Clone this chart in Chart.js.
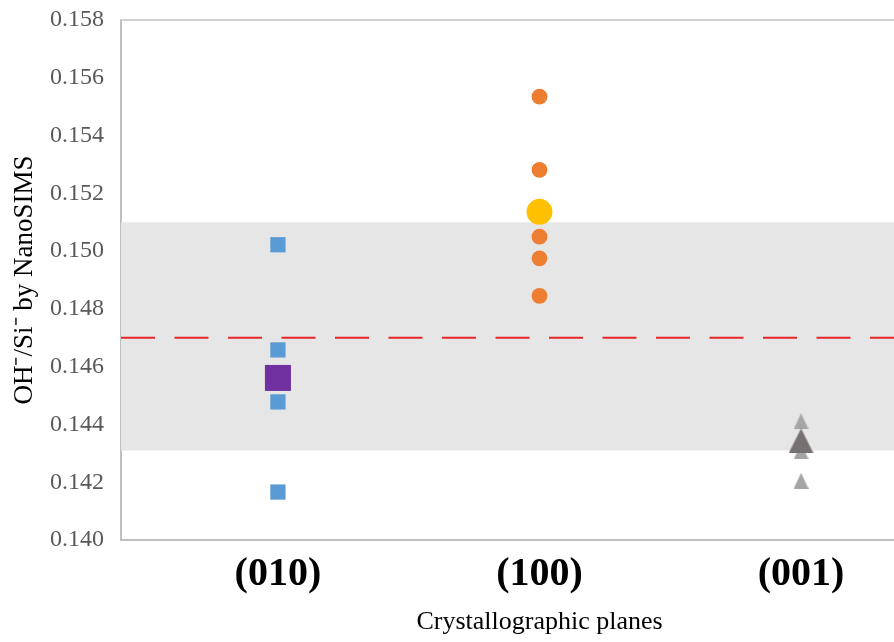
<!DOCTYPE html>
<html>
<head>
<meta charset="utf-8">
<title>OH-/Si- by NanoSIMS</title>
<script src="https://cdn.jsdelivr.net/npm/chart.js@4.4.1/dist/chart.umd.min.js"></script>
<style>
  html, body { margin: 0; padding: 0; background: #fff; overflow: hidden; }
  #wrap { width: 894px; height: 642px; overflow: hidden; }
</style>
</head>
<body>
<div id="wrap"><canvas id="chart" width="958" height="642"></canvas></div>
<script>
// Crystallographic planes shown on the x axis (positions 1, 2, 3)
const categories = ['(010)', '(100)', '(001)'];

// Individual OH-/Si- measurements per plane
const plane010 = [0.15022, 0.14658, 0.14478, 0.14166];
const plane100 = [0.15535, 0.15281, 0.15050, 0.14975, 0.14845];
const plane001 = [0.14411, 0.14307, 0.14205];

// Mean value per plane (large markers)
const planeMeans = [0.14561, 0.15136, 0.14343];

// Reference value (dashed line) and its uncertainty range (grey band)
const referenceValue = 0.147;
const rangeLow = 0.1431;
const rangeHigh = 0.1510;

// Axis ranges
const xMin = 0.4, xMax = 3.6;
const yMin = 0.140, yMax = 0.158, yStep = 0.002;

const SERIF = "'Liberation Serif', 'Times New Roman', serif";

// Triangle marker centred on its bounding box
function triangleMarker(w, h, color) {
  const c = document.createElement('canvas');
  c.width = w; c.height = h;
  const g = c.getContext('2d');
  g.fillStyle = color;
  g.beginPath();
  g.moveTo(w / 2, 0);
  g.lineTo(w, h);
  g.lineTo(0, h);
  g.closePath();
  g.fill();
  return c;
}

const at = (pos, values) => values.map(v => ({ x: pos, y: v }));

// Thin frame line along the top of the plot area
const topFrame = {
  id: 'topFrame',
  afterDraw(chart) {
    const { ctx, chartArea: a } = chart;
    ctx.save();
    ctx.strokeStyle = '#d0d0d0';
    ctx.lineWidth = 2;
    ctx.beginPath();
    ctx.moveTo(a.left, a.top);
    ctx.lineTo(a.right, a.top);
    ctx.stroke();
    ctx.restore();
  }
};

new Chart(document.getElementById('chart'), {
  type: 'scatter',
  data: {
    datasets: [
      {
        type: 'line', label: 'range high',
        data: [{ x: xMin, y: rangeHigh }, { x: xMax, y: rangeHigh }],
        fill: '+1', backgroundColor: '#e6e6e6',
        borderWidth: 0, pointRadius: 0, order: 10
      },
      {
        type: 'line', label: 'range low',
        data: [{ x: xMin, y: rangeLow }, { x: xMax, y: rangeLow }],
        fill: false, borderWidth: 0, pointRadius: 0, order: 11
      },
      {
        type: 'line', label: 'reference',
        data: [{ x: xMin, y: referenceValue }, { x: xMax, y: referenceValue }],
        fill: false, borderColor: '#e8262a', borderWidth: 2,
        borderDash: [34, 19.5], pointRadius: 0, order: 9
      },
      {
        label: categories[0], data: at(1, plane010),
        pointStyle: 'rect', pointRadius: 10.8, borderWidth: 0,
        backgroundColor: '#5b9bd5', order: 5
      },
      {
        label: categories[1], data: at(2, plane100),
        pointStyle: 'circle', pointRadius: 7.9, borderWidth: 0,
        backgroundColor: '#ed7d31', order: 5
      },
      {
        label: categories[2], data: at(3, plane001),
        pointStyle: triangleMarker(15, 16, '#a5a5a5'), borderWidth: 0,
        backgroundColor: '#a5a5a5', order: 5
      },
      {
        label: categories[0] + ' mean', data: at(1, [planeMeans[0]]),
        pointStyle: 'rect', pointRadius: 18.4, borderWidth: 0,
        backgroundColor: '#7030a0', order: 1
      },
      {
        label: categories[1] + ' mean', data: at(2, [planeMeans[1]]),
        pointStyle: 'circle', pointRadius: 13, borderWidth: 0,
        backgroundColor: '#ffc000', order: 1
      },
      {
        label: categories[2] + ' mean', data: at(3, [planeMeans[2]]),
        pointStyle: triangleMarker(25, 25, '#767171'), borderWidth: 0,
        backgroundColor: '#767171', order: 1
      }
    ]
  },
  options: {
    responsive: false,
    animation: false,
    events: [],
    layout: { autoPadding: false, padding: { top: 20, left: 0, right: 0, bottom: 0 } },
    plugins: { legend: { display: false }, tooltip: { enabled: false } },
    scales: {
      x: {
        type: 'linear', min: xMin, max: xMax,
        grid: { display: false, drawTicks: false },
        border: { display: true, color: '#bfbfbf', width: 2 },
        afterBuildTicks: s => { s.ticks = categories.map((c, i) => ({ value: i + 1 })); },
        afterFit: s => { s.height = 102; s.paddingLeft = 0; s.paddingRight = 0; },
        ticks: {
          autoSkip: false, maxRotation: 0, padding: 11, color: '#000',
          font: { family: SERIF, size: 40, weight: 'bold' },
          callback: v => categories[Math.round(v) - 1]
        },
        title: {
          display: true, text: 'Crystallographic planes', color: '#000',
          font: { family: SERIF, size: 26 }, padding: { top: 0, bottom: 4 }
        }
      },
      y: {
        min: yMin, max: yMax,
        grid: { display: false, drawTicks: false },
        border: { display: true, color: '#bfbfbf', width: 2 },
        afterFit: s => { s.width = 121; s.paddingTop = 0; s.paddingBottom = 0; },
        ticks: {
          stepSize: yStep, padding: 17, color: '#595959',
          font: { family: SERIF, size: 24 },
          callback: v => v.toFixed(3)
        },
        title: {
          display: true, text: 'OH\u207B/Si\u207B by NanoSIMS', color: '#000',
          font: { family: SERIF, size: 27 }, padding: { top: 9, bottom: 0 }
        }
      }
    }
  },
  plugins: [topFrame]
});
</script>
</body>
</html>
